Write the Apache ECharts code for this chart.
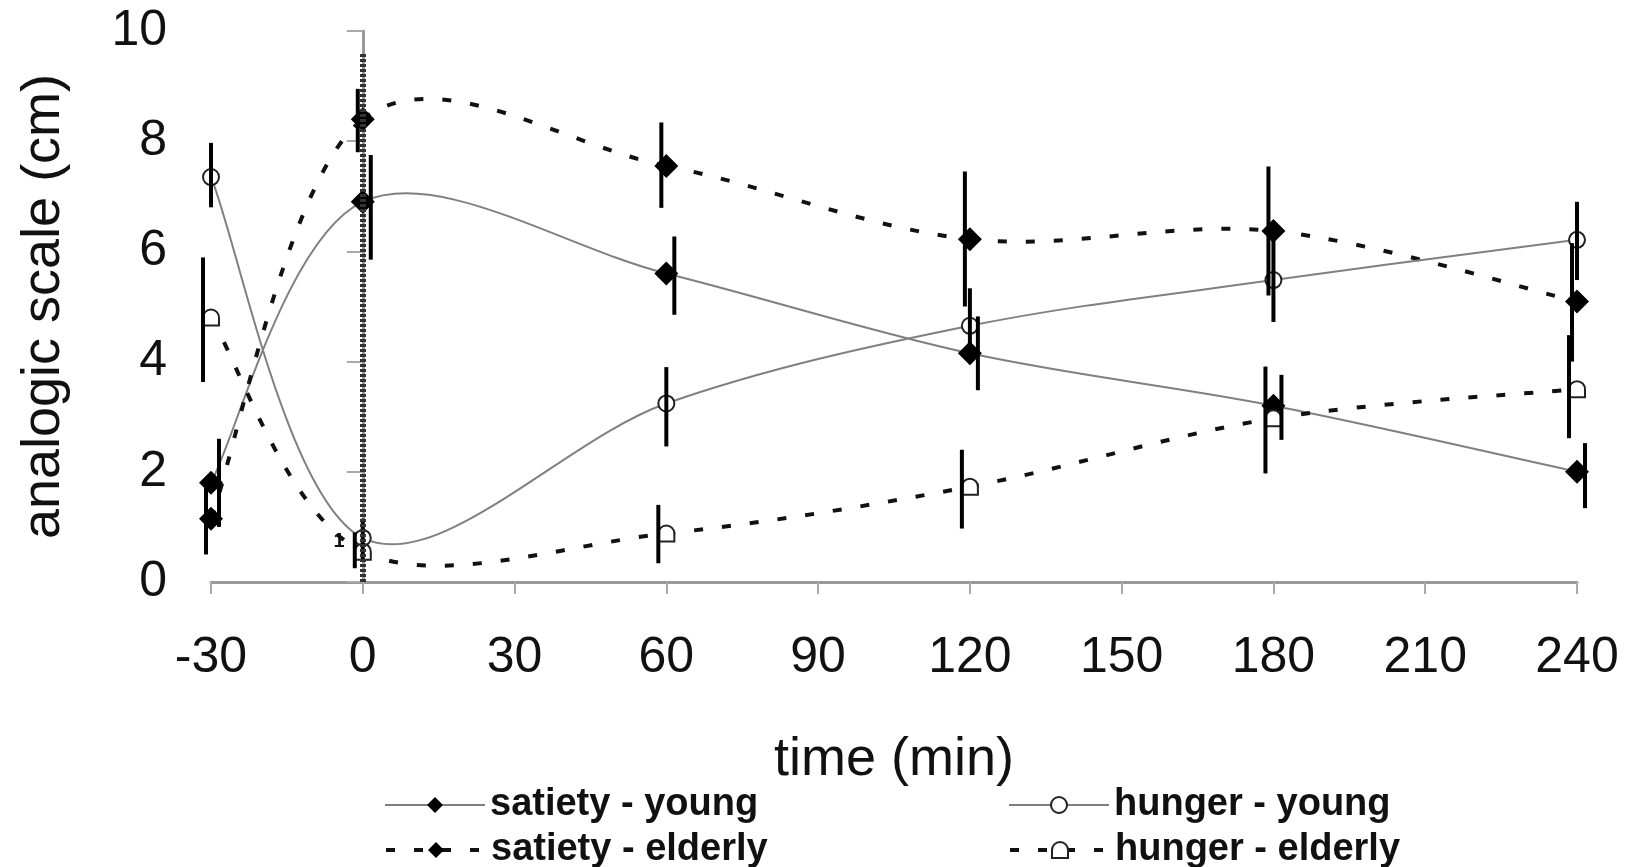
<!DOCTYPE html>
<html>
<head>
<meta charset="utf-8">
<script src="https://cdn.jsdelivr.net/npm/echarts@6/dist/echarts.min.js"></script>
<style>
html,body{margin:0;padding:0;background:#fff;}
#chart{width:1629px;height:867px;}
</style>
</head>
<body>
<div id="chart"></div>
<script>
// ---- data ----
const times = [-30, 0, 60, 120, 180, 240];
const xTicks = [-30, 0, 30, 60, 90, 120, 150, 180, 210, 240];
const yTicks = [0, 2, 4, 6, 8, 10];

const satietyYoung      = [1.8, 6.9, 5.6, 4.15, 3.2, 2.0];
const satietyYoungLow   = [1.0, 5.85, 4.85, 3.48, 2.58, 1.34];
const satietyYoungHigh  = [2.6, 7.75, 6.27, 4.82, 3.76, 2.52];

const satietyElderly     = [1.15, 8.4, 7.55, 6.22, 6.37, 5.09];
const satietyElderlyLow  = [0.5, 7.8, 6.79, 5.0, 5.2, 4.0];
const satietyElderlyHigh = [1.8, 8.95, 8.34, 7.45, 7.54, 6.15];

const hungerYoung      = [7.35, 0.8, 3.24, 4.65, 5.48, 6.21];
const hungerYoungLow   = [6.8, 0.4, 2.46, 3.97, 4.72, 5.48];
const hungerYoungHigh  = [7.97, 1.15, 3.9, 5.33, 6.24, 6.9];

const hungerElderly     = [4.8, 0.55, 0.88, 1.73, 2.97, 3.5];
const hungerElderlyLow  = [3.63, 0.25, 0.34, 0.97, 1.97, 2.61];
const hungerElderlyHigh = [5.89, 0.9, 1.4, 2.4, 3.91, 4.48];

const refLineX = 0;
const refLineTop = 9.6;
const noteText = '1';
const notePos = [-4.7, 0.74];

const names = ['satiety - young', 'satiety - elderly', 'hunger - young', 'hunger - elderly'];

// ---- chart ----
const FONT = '"Liberation Sans", Arial, sans-serif';
const chart = echarts.init(document.getElementById('chart'), null, {renderer: 'canvas'});

function pairs(vals) { return times.map((t, i) => [t, vals[i]]); }

const solidStyle = {color: '#808080', width: 2, type: 'solid', opacity: 1};
const dashStyle = {color: '#111', width: 4, type: [9, 19], opacity: 1};

// error bars
function errSeries(lows, highs, dx) {
  return {
    type: 'custom', silent: true, z: 4,
    data: times.map((t, i) => [t, lows[i], highs[i]]),
    encode: {x: 0, y: [1, 2]},
    renderItem: function (params, api) {
      const p1 = api.coord([api.value(0), api.value(1)]);
      const p2 = api.coord([api.value(0), api.value(2)]);
      return {
        type: 'line',
        shape: {x1: p1[0] + dx, y1: p1[1], x2: p2[0] + dx, y2: p2[1]},
        style: {stroke: '#000', lineWidth: 4}
      };
    }
  };
}

// spreadsheet-style smoothed curve (cardinal spline through the points)
function curveSeries(vals, ls) {
  return {
    type: 'custom', silent: true, z: 2,
    data: pairs(vals),
    encode: {x: 0, y: 1},
    renderItem: function (params, api) {
      const i = params.dataIndex;
      const n = times.length;
      if (i >= n - 1) return null;
      const P = k => api.coord([times[Math.max(0, Math.min(n - 1, k))], vals[Math.max(0, Math.min(n - 1, k))]]);
      const p0 = P(i - 1), p1 = P(i), p2 = P(i + 1), p3 = P(i + 2);
      return {
        type: 'bezierCurve',
        shape: {
          x1: p1[0], y1: p1[1], x2: p2[0], y2: p2[1],
          cpx1: p1[0] + (p2[0] - p0[0]) / 6, cpy1: p1[1] + (p2[1] - p0[1]) / 6,
          cpx2: p2[0] - (p3[0] - p1[0]) / 6, cpy2: p2[1] - (p3[1] - p1[1]) / 6
        },
        style: {
          stroke: ls.color, lineWidth: ls.width, fill: null,
          lineDash: ls.type === 'solid' ? null : ls.type
        }
      };
    }
  };
}

const archPath = 'path://M0,10 L0,5 A5,5 0 0 1 10,5 L10,10 Z';
const legendText = {fontFamily: FONT, fontSize: 38, fontWeight: 'bold', color: '#111'};
function legendFor(idx, left, top, ls) {
  return {
    data: [{name: names[idx], lineStyle: ls}],
    left: left, top: top, padding: 0,
    itemWidth: 100, itemHeight: 20,
    textStyle: legendText
  };
}

const option = {
  animation: false,
  backgroundColor: '#fff',
  grid: {left: 211, right: 52, top: 31, bottom: 285, containLabel: false},
  xAxis: {
    type: 'value', min: -30, max: 240, interval: 30,
    name: 'time (min)', nameLocation: 'middle', nameGap: 151,
    nameTextStyle: {fontFamily: FONT, fontSize: 54, color: '#111'},
    axisLine: {lineStyle: {color: '#999', width: 3}},
    axisTick: {length: 12, lineStyle: {color: '#aaa', width: 2}},
    axisLabel: {fontFamily: FONT, fontSize: 50, color: '#111', margin: 51,
      formatter: v => xTicks.includes(v) ? String(v) : ''},
    splitLine: {show: false}
  },
  yAxis: {
    type: 'value', min: 0, max: 10, interval: 2,
    name: 'analogic scale (cm)', nameLocation: 'middle', nameGap: 140,
    nameTextStyle: {fontFamily: FONT, fontSize: 54, color: '#111'},
    axisLine: {show: true, lineStyle: {color: '#999', width: 3}},
    axisTick: {show: true, length: 16, lineStyle: {color: '#aaa', width: 2}},
    axisLabel: {fontFamily: FONT, fontSize: 50, color: '#111', margin: 44,
      formatter: v => yTicks.includes(v) ? String(v) : ''},
    splitLine: {show: false}
  },
  legend: [
    legendFor(0, 384, 786, solidStyle),
    legendFor(1, 384, 831, dashStyle),
    legendFor(2, 1008, 786, solidStyle),
    legendFor(3, 1008, 831, dashStyle)
  ],
  series: [
    curveSeries(satietyYoung, solidStyle),
    curveSeries(satietyElderly, dashStyle),
    curveSeries(hungerYoung, solidStyle),
    curveSeries(hungerElderly, dashStyle),
    {
      name: names[0], type: 'line', z: 3,
      data: pairs(satietyYoung),
      symbol: 'diamond', symbolSize: 24,
      itemStyle: {color: '#000'},
      lineStyle: {color: '#808080', width: 2, opacity: 0},
      markLine: {
        silent: true, symbol: ['none', 'none'], label: {show: false},
        lineStyle: {color: '#333', width: 6, type: [3, 2], opacity: 1},
        data: [[{coord: [refLineX, 0]}, {coord: [refLineX, refLineTop]}]]
      },
      markPoint: {
        silent: true, symbol: 'circle', symbolSize: 1, itemStyle: {color: 'transparent'},
        label: {show: true, formatter: noteText, fontFamily: FONT, fontSize: 20, fontWeight: 'bold', color: '#111'},
        data: [{coord: notePos}]
      }
    },
    {
      name: names[1], type: 'line', z: 3,
      data: pairs(satietyElderly),
      symbol: 'diamond', symbolSize: 24,
      itemStyle: {color: '#000'},
      lineStyle: {color: '#111', width: 4, opacity: 0}
    },
    {
      name: names[2], type: 'line', z: 3,
      data: pairs(hungerYoung),
      symbol: 'emptyCircle', symbolSize: 16,
      itemStyle: {color: '#222', borderWidth: 2},
      lineStyle: {color: '#808080', width: 2, opacity: 0}
    },
    {
      name: names[3], type: 'line', z: 3,
      data: pairs(hungerElderly),
      symbol: archPath, symbolSize: 16,
      itemStyle: {color: '#fff', borderColor: '#222', borderWidth: 2},
      lineStyle: {color: '#111', width: 4, opacity: 0}
    },
    errSeries(satietyYoungLow, satietyYoungHigh, 8),
    errSeries(satietyElderlyLow, satietyElderlyHigh, -5),
    errSeries(hungerYoungLow, hungerYoungHigh, 0),
    errSeries(hungerElderlyLow, hungerElderlyHigh, -8)
  ]
};
chart.setOption(option);
</script>
</body>
</html>
